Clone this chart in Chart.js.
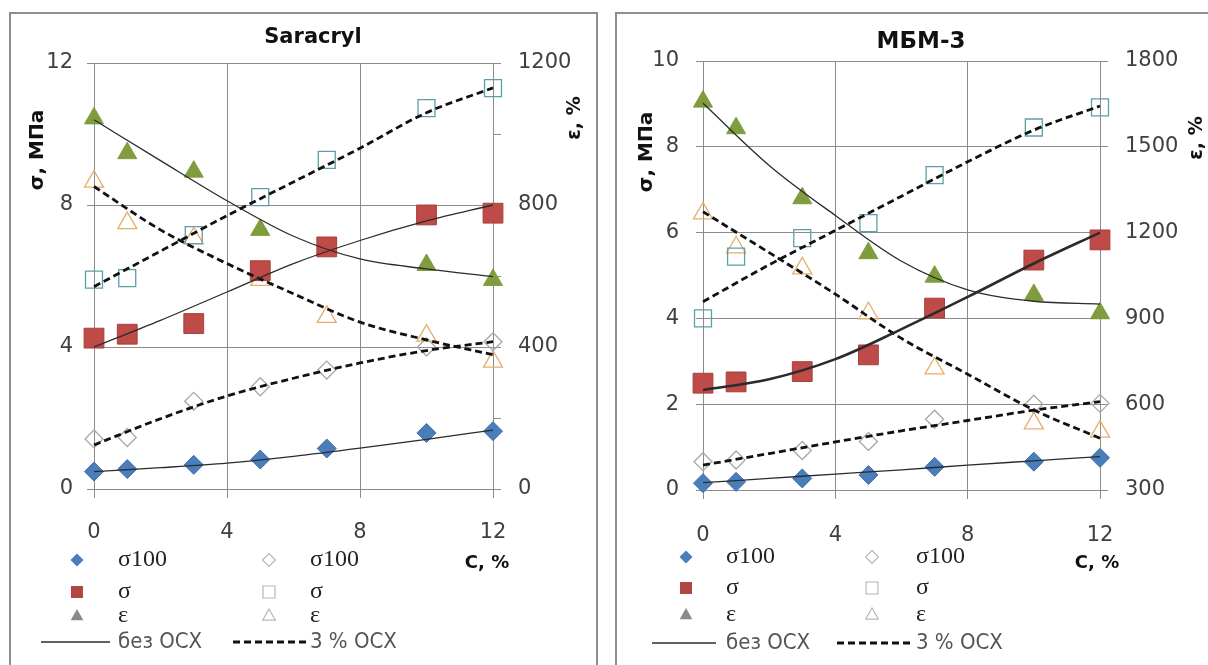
<!DOCTYPE html>
<html><head><meta charset="utf-8">
<script src="https://cdn.jsdelivr.net/npm/chart.js@4.4.1/dist/chart.umd.min.js"></script>
<style>
html,body{margin:0;padding:0;background:#fff;width:1208px;height:665px;overflow:hidden;}
.panel{position:absolute;border:2px solid #8e8e8e;box-sizing:border-box;}
canvas{position:absolute;top:0;}
</style></head><body>
<div class="panel" style="left:9px;top:12px;width:589px;height:700px;"></div>
<div class="panel" style="left:615px;top:12px;width:700px;height:700px;"></div>
<canvas id="c1" width="604" height="665" style="left:0"></canvas>
<canvas id="c2" width="604" height="665" style="left:604px"></canvas>
<script>
// ---------- DATA ----------
const concX = [0, 1, 3, 5, 7, 10, 12];          // C, %
const fitX = [0, 2, 4, 6, 8, 10, 12];           // trend-line read points
const xTickValues = [0, 4, 8, 12];

// Saracryl
const sarLeftTicks = [0, 4, 8, 12];
const sarRightMarks = [0, 200, 400, 600, 800, 1000, 1200];
const sarRightLabels = [0, 400, 800, 1200];
const sarSigma100 = [0.49, 0.56, 0.68, 0.83, 1.14, 1.58, 1.63];
const sarSigma100Osx = [1.41, 1.45, 2.47, 2.88, 3.35, 4.0, 4.15];
const sarSigma = [4.25, 4.36, 4.66, 6.15, 6.82, 7.72, 7.77];
const sarSigmaOsx = [5.9, 5.94, 7.15, 8.22, 9.27, 10.73, 11.29];
const sarEps = [1044, 946, 894, 730, 678, 631, 589];
const sarEpsOsx = [866, 749, 706, 589, 485, 432, 359];
const sarSigma100Fit = [0.49, 0.6, 0.73, 0.92, 1.15, 1.4, 1.66];
const sarSigma100OsxFit = [1.24, 1.98, 2.62, 3.12, 3.55, 3.9, 4.15];
const sarSigmaFit = [4.0, 4.75, 5.55, 6.35, 7.0, 7.55, 8.0];
const sarSigmaOsxFit = [5.7, 6.7, 7.7, 8.65, 9.6, 10.6, 11.3];
const sarEpsFit = [1040, 925, 812, 712, 648, 620, 598];
const sarEpsOsxFit = [852, 730, 635, 550, 470, 420, 378];

// МБМ-3
const mbmLeftTicks = [0, 2, 4, 6, 8, 10];
const mbmRightMarks = [300, 600, 900, 1200, 1500, 1800];
const mbmRightLabels = [300, 600, 900, 1200, 1500, 1800];
const mbmSigma100 = [0.16, 0.19, 0.27, 0.35, 0.54, 0.66, 0.75];
const mbmSigma100Osx = [0.66, 0.70, 0.92, 1.13, 1.65, 2.0, 2.02];
const mbmSigma = [2.49, 2.52, 2.76, 3.15, 4.24, 5.36, 5.83];
const mbmSigmaOsx = [4.0, 5.44, 5.87, 6.22, 7.34, 8.45, 8.92];
const mbmEps = [1658, 1565, 1320, 1128, 1046, 982, 918];
const mbmEpsOsx = [1267, 1148, 1075, 918, 725, 533, 504];
const mbmSigma100Fit = [0.17, 0.27, 0.37, 0.47, 0.58, 0.68, 0.78];
const mbmSigma100OsxFit = [0.58, 0.85, 1.12, 1.38, 1.62, 1.86, 2.06];
const mbmSigmaFit = [2.33, 2.58, 3.05, 3.75, 4.5, 5.28, 6.0];
const mbmSigmaOsxFit = [4.39, 5.25, 6.05, 6.85, 7.65, 8.39, 8.95];
const mbmEpsFit = [1652, 1435, 1260, 1100, 1000, 960, 950];
const mbmEpsOsxFit = [1273, 1130, 985, 830, 705, 580, 481];

// legend / text labels
const legendLabels = ['σ100', 'σ', 'ε'];
const lineLabels = ['без ОСХ', '3 % ОСХ'];
const yTitle = 'σ, МПа', y1Title = 'ε, %', xTitle = 'С, %';

// ---------- STYLES ----------
const SANS = '"DejaVu Sans", "Open Sans", sans-serif';
const SERIF = '"Liberation Serif", "DejaVu Serif", serif';
const NARROW = '"Liberation Sans Narrow", "DejaVu Sans Condensed", sans-serif';
const GRID = '#8c8c8c';
const TICKC = '#404040';
const M = {
  dFill: {pointStyle:'rectRot', pointRadius:9.5, pointBackgroundColor:'#4a7ebb', pointBorderColor:'#3f6ca6', pointBorderWidth:1},
  dOpen: {pointStyle:'rectRot', pointRadius:9, pointBackgroundColor:'rgba(255,255,255,0)', pointBorderColor:'#a8a8a8', pointBorderWidth:1.3},
  sFill: {pointStyle:'rect', pointRadius:14, pointBackgroundColor:'#be4b48', pointBorderColor:'#a83f3c', pointBorderWidth:1},
  sOpen: {pointStyle:'rect', pointRadius:12, pointBackgroundColor:'rgba(255,255,255,0)', pointBorderColor:'#5e9ea8', pointBorderWidth:1.3},
  tFill: {pointStyle:'triangle', pointRadius:11, pointBackgroundColor:'#7f9c3e', pointBorderColor:'#7f9c3e', pointBorderWidth:1},
  tOpen: {pointStyle:'triangle', pointRadius:11, pointBackgroundColor:'rgba(255,255,255,0)', pointBorderColor:'#e8ad6c', pointBorderWidth:1.3}
};

function pts(xs, ys){ return xs.map((x,i)=>({x:x, y:ys[i]})); }
function markerDs(ys, style, axis){
  return Object.assign({data: pts(concX, ys), yAxisID: axis, showLine:false, order:1, pointHoverRadius:0, clip:false}, style);
}
function lineDs(ys, axis, dashed, width){
  return {data: pts(fitX, ys), yAxisID: axis, showLine:true, pointRadius:0, order:0, clip:false,
    borderColor: dashed ? '#111' : '#2b2b2b', borderWidth: width || (dashed ? 2.8 : 1.3),
    borderDash: dashed ? [7,4] : [], cubicInterpolationMode:'monotone', fill:false};
}

function drawMarker(ctx, kind, x, y){
  ctx.save();
  ctx.beginPath();
  const fill = kind.endsWith('F');
  if (kind[0]==='d'){ const r=6.5; ctx.moveTo(x,y-r);ctx.lineTo(x+r,y);ctx.lineTo(x,y+r);ctx.lineTo(x-r,y);ctx.closePath(); }
  else if (kind[0]==='s'){ const r=6; ctx.rect(x-r,y-r,2*r,2*r); }
  else { const r=7; ctx.moveTo(x,y-r);ctx.lineTo(x+r*0.9,y+r*0.6);ctx.lineTo(x-r*0.9,y+r*0.6);ctx.closePath(); }
  if (fill){
    ctx.fillStyle = kind==='dF' ? '#4a7ebb' : kind==='sF' ? '#b04744' : '#8a8a8a';
    ctx.fill();
  } else {
    ctx.strokeStyle = '#b8b8b8'; ctx.lineWidth = 1.2; ctx.stroke();
  }
  ctx.restore();
}

function text(ctx, s, x, y, font, color, align, rot){
  ctx.save();
  ctx.font = font; ctx.fillStyle = color; ctx.textAlign = align || 'center'; ctx.textBaseline = 'middle';
  ctx.translate(x, y); if (rot) ctx.rotate(rot);
  ctx.fillText(s, 0, 0);
  ctx.restore();
}

function annotPlugin(p){
  return {
    id: 'annot',
    afterDraw(chart){
      const ctx = chart.ctx;
      text(ctx, p.title, p.titlePos[0], p.titlePos[1], p.titleFont, '#111');
      text(ctx, yTitle, p.yTitlePos[0], p.yTitlePos[1], 'bold 20px ' + SANS, '#111', 'center', -Math.PI/2);
      text(ctx, y1Title, p.y1TitlePos[0], p.y1TitlePos[1], 'bold 19px ' + SANS, '#111', 'center', -Math.PI/2);
      text(ctx, xTitle, p.xTitlePos[0], p.xTitlePos[1], 'bold 18px ' + SANS, '#111');
      const L = p.legend;
      const kinds = [['dF','dO'],['sF','sO'],['tF','tO']];
      for (let r=0;r<3;r++){
        drawMarker(ctx, kinds[r][0], L.mx[0], L.rows[r]);
        drawMarker(ctx, kinds[r][1], L.mx[1], L.rows[r]);
        text(ctx, legendLabels[r], L.tx[0], L.rows[r], '24px ' + SERIF, '#222', 'left');
        text(ctx, legendLabels[r], L.tx[1], L.rows[r], '24px ' + SERIF, '#222', 'left');
      }
      const ly = L.rows[3];
      ctx.save();
      ctx.strokeStyle = '#2b2b2b'; ctx.lineWidth = 1.5;
      ctx.beginPath(); ctx.moveTo(L.l1[0], ly); ctx.lineTo(L.l1[1], ly); ctx.stroke();
      ctx.strokeStyle = '#111'; ctx.lineWidth = 2.8; ctx.setLineDash([7,4]);
      ctx.beginPath(); ctx.moveTo(L.l2[0], ly); ctx.lineTo(L.l2[1], ly); ctx.stroke();
      ctx.restore();
      text(ctx, lineLabels[0], L.tx[0], ly, '22px ' + NARROW, '#555', 'left');
      text(ctx, lineLabels[1], L.tx[1], ly, '22px ' + NARROW, '#555', 'left');
    }
  };
}

function makeChart(p){
  const area = p.area, W = 604, H = 665;
  const tickFont = {family: SANS, size: 21};
  new Chart(document.getElementById(p.id), {
    type: 'scatter',
    data: { datasets: p.datasets },
    options: {
      responsive:false, animation:false, events:[],
      layout:{padding:{top:area.top, left:0, right:0, bottom:0}},
      plugins:{legend:{display:false}, tooltip:{enabled:false}, title:{display:false}},
      scales:{
        x:{ type:'linear', min:0, max:12,
          afterBuildTicks(s){ s.ticks = xTickValues.map(v=>({value:v})); },
          afterFit(s){ s.height = H - area.bottom; },
          grid:{color:GRID, lineWidth:1, tickLength:9},
          border:{color:GRID},
          ticks:{font:tickFont, color:TICKC, padding:p.xPad, maxRotation:0}
        },
        y:{ type:'linear', position:'left', min:p.yMin, max:p.yMax,
          afterBuildTicks(s){ s.ticks = p.yTicks.map(v=>({value:v})); },
          afterFit(s){ s.width = area.left; },
          grid:{color:GRID, lineWidth:1, tickLength:7},
          border:{color:GRID},
          ticks:{font:tickFont, color:TICKC, padding:p.yPad}
        },
        y1:{ type:'linear', position:'right', min:p.y1Min, max:p.y1Max,
          afterBuildTicks(s){ s.ticks = p.y1Marks.map(v=>({value:v})); },
          afterFit(s){ s.width = W - area.right; },
          grid:{drawOnChartArea:false, color:GRID, lineWidth:1, tickLength:8},
          border:{color:GRID},
          ticks:{font:tickFont, color:TICKC, padding:p.y1Pad,
            callback(v){ return p.y1Labels.includes(v) ? String(v) : ''; }}
        }
      }
    },
    plugins:[annotPlugin(p)]
  });
}

makeChart({
  id:'c1', title:'Saracryl', titleFont:'bold 21px ' + SANS, titlePos:[313,38],
  area:{left:94, right:493, top:63, bottom:489},
  yMin:0, yMax:12, yTicks:sarLeftTicks, yPad:14, xPad:22,
  y1Min:0, y1Max:1200, y1Marks:sarRightMarks, y1Labels:sarRightLabels, y1Pad:17,
  yTitlePos:[38,150], y1TitlePos:[575,118], xTitlePos:[487,563],
  legend:{rows:[560,592,616,642], mx:[77,269], tx:[118,310], l1:[41,110], l2:[233,306]},
  datasets:[
    lineDs(sarSigma100Fit,'y',false), lineDs(sarSigma100OsxFit,'y',true),
    lineDs(sarSigmaFit,'y',false), lineDs(sarSigmaOsxFit,'y',true),
    lineDs(sarEpsFit,'y1',false), lineDs(sarEpsOsxFit,'y1',true),
    markerDs(sarSigma100, M.dFill,'y'), markerDs(sarSigma100Osx, M.dOpen,'y'),
    markerDs(sarSigma, M.sFill,'y'), markerDs(sarSigmaOsx, M.sOpen,'y'),
    markerDs(sarEps, M.tFill,'y1'), markerDs(sarEpsOsx, M.tOpen,'y1')
  ]
});

makeChart({
  id:'c2', title:'МБМ-3', titleFont:'bold 23px ' + SANS, titlePos:[317,42],
  area:{left:99, right:496, top:61, bottom:490},
  yMin:0, yMax:10, yTicks:mbmLeftTicks, yPad:17, xPad:24,
  y1Min:300, y1Max:1800, y1Marks:mbmRightMarks, y1Labels:mbmRightLabels, y1Pad:17,
  yTitlePos:[43,152], y1TitlePos:[593,138], xTitlePos:[493,563],
  legend:{rows:[557,588,615,643], mx:[82,268], tx:[122,312], l1:[48,112], l2:[233,307]},
  datasets:[
    lineDs(mbmSigma100Fit,'y',false), lineDs(mbmSigma100OsxFit,'y',true),
    lineDs(mbmSigmaFit,'y',false,2.6), lineDs(mbmSigmaOsxFit,'y',true),
    lineDs(mbmEpsFit,'y1',false), lineDs(mbmEpsOsxFit,'y1',true),
    markerDs(mbmSigma100, M.dFill,'y'), markerDs(mbmSigma100Osx, M.dOpen,'y'),
    markerDs(mbmSigma, M.sFill,'y'), markerDs(mbmSigmaOsx, M.sOpen,'y'),
    markerDs(mbmEps, M.tFill,'y1'), markerDs(mbmEpsOsx, M.tOpen,'y1')
  ]
});
</script>
</body></html>
